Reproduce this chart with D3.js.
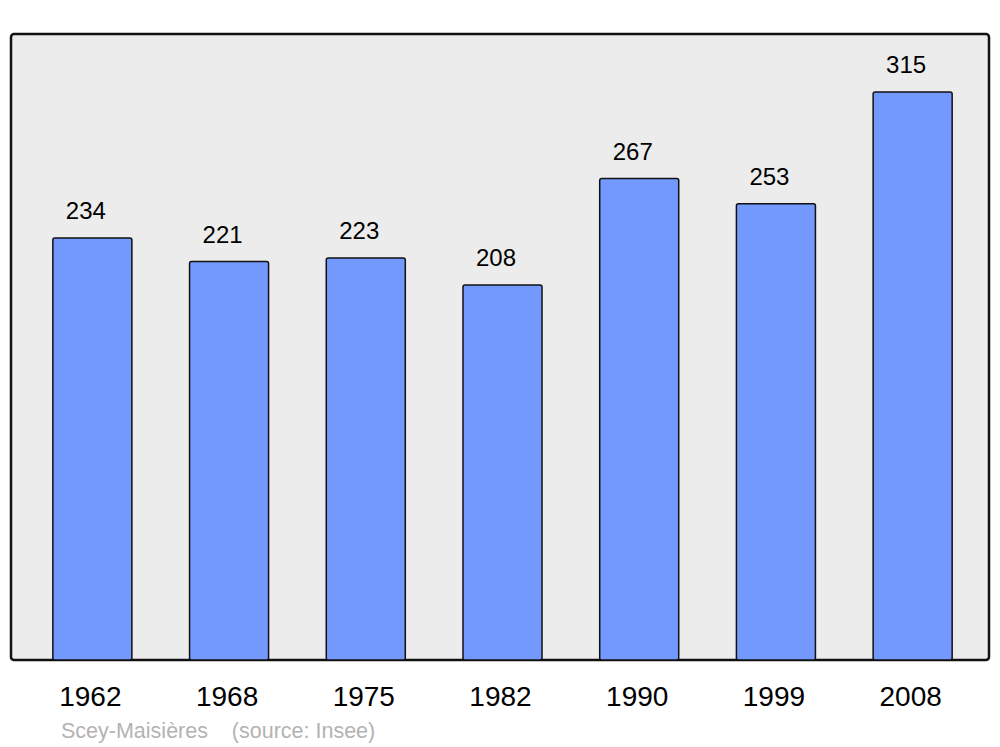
<!DOCTYPE html>
<html><head><meta charset="utf-8">
<script src="https://cdn.jsdelivr.net/npm/d3@7"></script>
<style>html,body{margin:0;padding:0;background:#fff;}svg{display:block;}</style>
</head><body>
<script>
const years = ["1962","1968","1975","1982","1990","1999","2008"];
const population = [234, 221, 223, 208, 267, 253, 315];
const footerName = "Scey-Maisières";
const footerSource = "(source: Insee)";

const W = 1000, H = 747;
const svg = d3.select("body").append("svg").attr("width", W).attr("height", H);

const panel = {x0: 11, y0: 34, x1: 989, y1: 660};
svg.append("rect").attr("x", panel.x0).attr("y", panel.y0)
  .attr("width", panel.x1 - panel.x0).attr("height", panel.y1 - panel.y0)
  .attr("rx", 3).attr("fill", "#ececec").attr("stroke", "#111").attr("stroke-width", 2.5);

const x = d3.scaleBand().domain(years).range([24, 981]).paddingInner(0.422).paddingOuter(0.211);
const y = d3.scaleLinear().domain([0, 350]).range([panel.y1, panel.y1 - 350 * 1.803]);

const data = years.map((yr, i) => ({yr, v: population[i]}));

svg.selectAll("rect.bar").data(data).enter().append("rect").attr("class", "bar")
  .attr("x", d => x(d.yr)).attr("y", d => y(d.v))
  .attr("width", x.bandwidth()).attr("height", d => y(0) - y(d.v))
  .attr("rx", 2).attr("fill", "#7399ff").attr("stroke", "#111").attr("stroke-width", 1.5);

svg.selectAll("text.val").data(data).enter().append("text").attr("class", "val")
  .attr("x", d => x(d.yr) + x.bandwidth() / 2 - 6.5).attr("y", d => y(d.v) - 18.7)
  .attr("text-anchor", "middle").attr("font-family", "Liberation Sans, Arial, sans-serif")
  .attr("font-size", 24).attr("fill", "#000").text(d => d.v);

const xAxis = d3.axisBottom(x).tickSize(0).tickPadding(0);
const g = svg.append("g").attr("transform", `translate(-2,${panel.y1})`).call(xAxis);
g.select(".domain").remove();
g.selectAll("text").attr("font-family", "Liberation Sans, Arial, sans-serif")
  .attr("font-size", 28).attr("fill", "#000").attr("dy", null).attr("y", 45.7);

svg.append("text").attr("x", 61).attr("y", 737.5)
  .attr("font-family", "Liberation Sans, Arial, sans-serif").attr("font-size", 21.5)
  .attr("fill", "#b3b3b3").attr("xml:space", "preserve")
  .text(footerName + "    " + footerSource);
</script>
</body></html>
